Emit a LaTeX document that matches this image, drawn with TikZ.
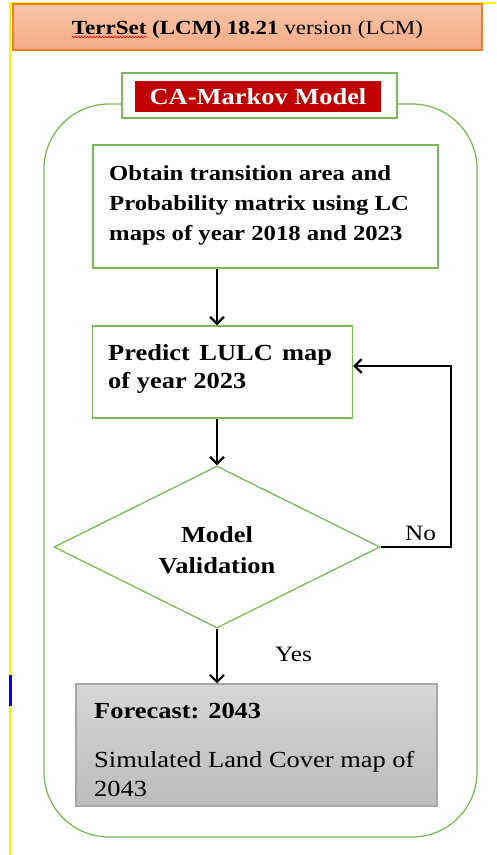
\documentclass[tikz,border=0pt]{standalone}
\usepackage{fontspec}
\setmainfont[FakeStretch=1.15]{Liberation Serif}
\usetikzlibrary{arrows.meta,shapes.geometric,decorations.pathmorphing}
\definecolor{grn}{HTML}{7DB85A}
\definecolor{dred}{HTML}{C00000}
\definecolor{orb}{HTML}{ED7D31}
\definecolor{ortop}{HTML}{F8C4A8}
\definecolor{orbot}{HTML}{F4AC86}
\definecolor{gbord}{HTML}{A6A6A6}
\definecolor{gtop}{HTML}{D6D6D6}
\definecolor{gbot}{HTML}{BCBCBC}
\begin{document}
\begin{tikzpicture}[x=1pt,y=-1pt,
  gbox/.style={draw=grn, line width=1.3pt, fill=white, inner sep=0pt, rectangle},
  arr/.style={line width=2.4pt, -{Straight Barb[length=7pt,width=14pt,line width=2.2pt]}},
  btext/.style={font=\fontsize{23}{30}\selectfont\bfseries, align=left, anchor=base west, inner sep=0pt},
  rtext/.style={font=\fontsize{23}{29}\selectfont, align=left, anchor=base west, inner sep=0pt}]
\useasboundingbox (0,0) rectangle (496,855);
% page guide lines
\draw[yellow, line width=1.5pt] (10,3) -- (496,3);
\draw[yellow, line width=1.5pt] (10,3) -- (10,855);
\draw[blue, line width=3pt] (10,675) -- (10,706);
% header
\node[draw=orb, line width=1.2pt, top color=ortop, bottom color=orbot, minimum width=469pt, minimum height=46pt, inner sep=0pt] (hdr) at (247.5,27) {};
\node[font=\fontsize{20}{24}\selectfont, anchor=base, inner sep=0pt] (hdrt) at (247.5,34) {\textbf{TerrSet (LCM) 18.21} version (LCM)};
\draw[red, line width=0.6pt, decorate, decoration={snake, amplitude=0.8pt, segment length=3pt}] ([yshift=-3pt]hdrt.base west) -- ++(75,0);
% outer rounded container
\node[draw=grn, line width=1.3pt, rounded corners=65pt, minimum width=433pt, minimum height=733pt, inner sep=0pt] (cont) at (260.5,470.5) {};
% title
\node[gbox, minimum width=275pt, minimum height=45pt] (ttl) at (259.5,95.5) {};
\node[fill=dred, text=white, font=\fontsize{23}{26}\selectfont\bfseries, minimum width=246pt, minimum height=31pt, inner sep=0pt] (ttlt) at (258,96.5) {CA-Markov Model};
% box 1
\node[gbox, minimum width=345pt, minimum height=123pt] (b1) at (265.5,206.5) {};
\node[btext, font=\fontsize{21.5}{30}\selectfont\bfseries] (b1t) at (109,240) {Obtain transition area and\\Probability matrix using LC\\maps of year 2018 and 2023};
% box 2
\node[gbox, minimum width=260pt, minimum height=92pt] (b2) at (222.5,372) {};
\node[btext, font=\fontsize{23}{28}\selectfont\bfseries] (b2t) at (108,388) {\makebox[224pt][s]{Predict LULC map}\\of year 2023};
% diamond
\node[draw=grn, line width=1.3pt, shape=diamond, minimum width=326pt, minimum height=162pt, inner sep=0pt] (dia) at (217,547) {};
\node[font=\fontsize{23}{31}\selectfont\bfseries, align=center, anchor=base, inner sep=0pt] (diat) at (217,573) {Model\\Validation};
% forecast
\node[draw=gbord, line width=1.2pt, top color=gtop, bottom color=gbot, minimum width=361pt, minimum height=122pt, inner sep=0pt] (fc) at (256.5,745) {};
\node[btext] (fct1) at (94,718) {Forecast: 2043};
\node[rtext] (fct2) at (94,796) {Simulated Land Cover map of\\2043};
% connectors
\draw[arr] (b1.south -| dia.north) -- (b2.north -| dia.north);
\draw[arr] (b2.south -| dia.north) -- (dia.north);
\draw[arr] (dia.south) -- (fc.north -| dia.south);
\coordinate (loopx) at (451,547);
\draw[arr] (dia.east) -- (loopx) |- ([yshift=6pt]b2.east);
% labels
\node[rtext, font=\fontsize{22}{26}\selectfont] (no) at (405,540) {No};
\node[rtext, font=\fontsize{22}{26}\selectfont] (yes) at (275,661) {Yes};
\end{tikzpicture}
\end{document}
